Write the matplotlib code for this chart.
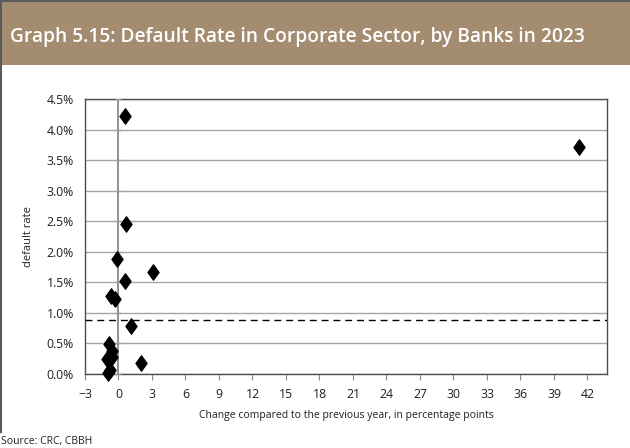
import matplotlib
matplotlib.use('Agg')
import matplotlib.pyplot as plt
from matplotlib.patches import Rectangle
from matplotlib.lines import Line2D
from matplotlib.ticker import PercentFormatter
from matplotlib.path import Path

# Data (change in p.p., default rate in %)
change_pp = [0.6, 0.7, -0.15, 3.05, 0.6, -0.7, -0.3, 1.15, -0.85, -0.6, -0.55,
             -1.0, -0.75, -0.95, 2.0, 41.2]
default_rate = [4.23, 2.45, 1.89, 1.67, 1.52, 1.27, 1.22, 0.79, 0.49, 0.38, 0.28,
                0.24, 0.07, 0.01, 0.17, 3.71]
average_rate = 0.88
x_ticks = list(range(-3, 43, 3))
y_ticks = [0, 0.5, 1.0, 1.5, 2.0, 2.5, 3.0, 3.5, 4.0, 4.5]

plt.rcParams['font.family'] = ['Open Sans', 'DejaVu Sans']

W, H = 630, 448
fig = plt.figure(figsize=(W / 100, H / 100), dpi=100)

# header band
fig.patches.append(Rectangle((0, 1 - 65 / H), 1, 65 / H, transform=fig.transFigure,
                             facecolor='#A38C70', edgecolor='none', zorder=0))
fig.lines.append(Line2D([0, 1], [1 - 0.8 / H, 1 - 0.8 / H], transform=fig.transFigure,
                        color='#5a5a5a', lw=1.5))
fig.lines.append(Line2D([1 / W, 1 / W], [1, 1 - 432 / H], transform=fig.transFigure,
                        color='#5a5a5a', lw=1.5))
fig.text(10 / W, 1 - 37 / H, 'Graph 5.15: Default Rate in Corporate Sector, by Banks in 2023',
         color='white', fontsize=13.8, fontweight='semibold', va='center', ha='left')
fig.text(1 / W, 1 - 441 / H, 'Source: CRC, CBBH', fontsize=7.5, va='center', ha='left',
         color='#231f20')

left, right, top, bottom = 85, 607, 99.3, 373.8
ax = fig.add_axes([left / W, 1 - bottom / H, (right - left) / W, (bottom - top) / H])

diamond = Path([(0, 1), (0.72, 0), (0, -1), (-0.72, 0), (0, 1)],
               [Path.MOVETO, Path.LINETO, Path.LINETO, Path.LINETO, Path.CLOSEPOLY])
ax.plot(change_pp, default_rate, linestyle='none', marker=diamond, markersize=11,
        color='black', zorder=5, clip_on=False)

ax.axhline(average_rate, color='black', lw=1, linestyle=(0, (5, 3.5)), zorder=4)
ax.axvline(0, color='#7f7f7f', lw=1.2, zorder=3)
# small tick marks on the vertical axis through zero
ax.plot([0] * len(y_ticks), y_ticks, linestyle='none', marker='_', markersize=4,
        color='#a0a0a0', zorder=3)

ax.set_xlim(-3, 43.75)
ax.set_ylim(0, 4.5)
ax.set_xticks(x_ticks)
ax.set_yticks(y_ticks)
ax.yaxis.set_major_formatter(PercentFormatter(decimals=1))
ax.grid(axis='y', color='#a6a6a6', lw=1)
ax.set_axisbelow(True)

for s in ['left', 'top', 'right', 'bottom']:
    ax.spines[s].set_color('#4d4d4d')
    ax.spines[s].set_linewidth(1)

ax.tick_params(axis='x', direction='out', length=4, color='#8c8c8c', pad=6,
               labelsize=8.8, labelcolor='#231f20')
ax.tick_params(axis='y', length=0, pad=8, labelsize=8.8, labelcolor='#231f20')

ax.set_xlabel('Change compared to the previous year, in percentage points',
              fontsize=7.5, color='#231f20', labelpad=7)
ax.set_ylabel('default rate', fontsize=8, color='#231f20', labelpad=9)

plt.savefig('out.png', dpi=100)
